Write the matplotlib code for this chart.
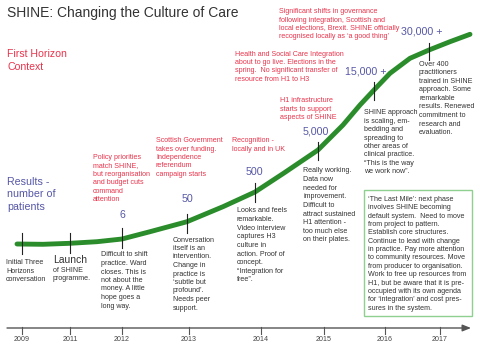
import matplotlib
matplotlib.use("Agg")
import matplotlib.pyplot as plt
from matplotlib.patches import Rectangle

plt.rcParams['font.family'] = ['Liberation Sans', 'DejaVu Sans']

# ---------------- data ----------------
years = ['2009', '2011', '2012', '2013', '2014', '2015', '2016', '2017']
milestones = ['6', '50', '500', '5,000', '15,000 +', '30,000 +']

# growth curve (pixel space of the drawing)
curve_x = [17, 43, 70, 97, 122, 150, 187, 223, 255, 284, 318, 343, 360, 374, 390, 410, 429, 450, 470]
curve_y = [244, 244.3, 243.3, 241.7, 239, 231.7, 221.7, 206.7, 192, 173, 150, 125, 105, 90, 73.3, 58.3, 50, 41.7, 34.3]

title = 'SHINE: Changing the Culture of Care'
horizon = ['First Horizon', 'Context']
results = ['Results -', 'number of', 'patients']

red_notes = [
    ['Policy priorities', 'match SHINE,', 'but reorganisation', 'and budget cuts', 'command', 'attention'],
    ['Scottish Government', 'takes over funding.', 'Independence', 'referendum', 'campaign starts'],
    ['Recognition -', 'locally and in UK'],
    ['Health and Social Care Integration', 'about to go live. Elections in the',
     'spring.  No significant transfer of', 'resource from H1 to H3'],
    ['H1 infrastructure', 'starts to support', 'aspects of SHINE'],
    ['Significant shifts in governance', 'following integration, Scottish and',
     'local elections, Brexit. SHINE officially', "recognised locally as \u2018a good thing\u2019"],
]

black_notes = [
    ['Initial Three', 'Horizons', 'conversation'],
    ['of SHINE', 'programme.'],
    ['Difficult to shift', 'practice. Ward', 'closes. This is', 'not about the', 'money. A little',
     'hope goes a', 'long way.'],
    ['Conversation', 'itself is an', 'intervention.', 'Change in', 'practice is',
     '\u2018subtle but', 'profound\u2019.', 'Needs peer', 'support.'],
    ['Looks and feels', 'remarkable.', 'Video interview', 'captures H3', 'culture in',
     'action. Proof of', 'concept.', '\u201cIntegration for', 'free\u201d.'],
    ['Really working.', 'Data now', 'needed for', 'improvement.', 'Difficult to',
     'attract sustained', 'H1 attention -', 'too much else', 'on their plates.'],
    ['SHINE approach', 'is scaling, em-', 'bedding and', 'spreading to', 'other areas of',
     'clinical practice.', '\u201cThis is the way', 'we work now\u201d.'],
    ['Over 400', 'practitioners', 'trained in SHINE', 'approach. Some', 'remarkable',
     'results. Renewed', 'commitment to', 'research and', 'evaluation.'],
]

box_note = ['\u2018The Last Mile\u2019: next phase', 'involves SHINE becoming',
            'default system.  Need to move', 'from project to pattern.',
            'Establish core structures.', 'Continue to lead with change',
            'in practice. Pay more attention', 'to community resources. Move',
            'from producer to organisation.', 'Work to free up resources from',
            'H1, but be aware that it is pre-', 'occupied with its own agenda',
            'for \u2018integration\u2019 and cost pres-', 'sures in the system.']

# ---------------- layout ----------------
RED = '#e8344c'
BLUE = '#5657a6'
DARK = '#333333'
GREEN = '#2b8c2b'

year_x = [22, 70, 122, 189, 261, 324, 385, 440]
tick_marks = [(22, 233, 254), (69.5, 233, 253), (122, 228, 248), (187, 213.5, 232.5),
              (255, 183, 201.5), (318, 141.5, 160), (374, 81.5, 100), (429, 43, 60)]
milestone_pos = [(122, 215), (187, 199), (254, 171.7), (316, 131.7), (366, 71.7), (421.7, 31)]

red_pos = [(93, 157.3, 8.5), (156, 140.7, 8.4), (232, 141, 8.4), (235, 54.3, 8.33),
           (280, 101, 8.3), (279.3, 11.7, 8.33)]
black_pos = [(6, 262.7, 8.5), (53, 270, 8.5), (101, 255, 8.5), (172.7, 240, 8.5),
             (236.7, 211, 8.6), (303.3, 171, 8.6), (364, 112.8, 8.43), (419, 64, 8.6)]

fig = plt.figure(figsize=(4.8, 3.51), dpi=100)
ax = fig.add_axes([0, 0, 1, 1])
ax.set_xlim(0, 480)
ax.set_ylim(351, 0)
ax.axis('off')


def block(x, y0, lines, color, size=5.1, dy=8.4, ha='left'):
    for i, s in enumerate(lines):
        ax.text(x, y0 + i * dy, s, color=color, fontsize=size, ha=ha, va='center')


# curve
ax.plot(curve_x, curve_y, color=GREEN, lw=3.5, solid_capstyle='round',
        solid_joinstyle='round', zorder=3)
for x, y1, y2 in tick_marks:
    ax.plot([x, x], [y1, y2], color='#222222', lw=0.8, zorder=4)

# timeline
ax.annotate('', xy=(471, 328), xytext=(7, 328),
            arrowprops=dict(arrowstyle='-|>,head_length=0.5,head_width=0.2',
                            color='#555555', lw=1.0, shrinkA=0, shrinkB=0))
for x, lab in zip(year_x, years):
    ax.plot([x, x], [327, 334], color='#555555', lw=0.8)
    ax.text(x, 339.5, lab, fontsize=5.1, color='#444444', ha='center', va='center')

# texts
ax.text(7, 13, title, fontsize=10, color=DARK, ha='left', va='center')
block(7, 54, horizon, RED, size=7.6, dy=13)
block(7, 181.7, results, BLUE, size=7.7, dy=12.5)
for (x, y), lab in zip(milestone_pos, milestones):
    ax.text(x, y, lab, fontsize=7.7, color=BLUE, ha='center', va='center')

for (x, y, dy), lines in zip(red_pos, red_notes):
    block(x, y, lines, RED, dy=dy)
for (x, y, dy), lines in zip(black_pos, black_notes):
    block(x, y, lines, DARK, dy=dy)
ax.text(53, 260, 'Launch', fontsize=7.5, color=DARK, ha='left', va='center')

# green box
ax.add_patch(Rectangle((364.3, 190), 108, 126, fill=False, edgecolor='#8fcf8f', lw=1.0))
block(368.3, 199.3, box_note, DARK, dy=8.38)

fig.savefig('out.png', dpi=100, facecolor='white')
